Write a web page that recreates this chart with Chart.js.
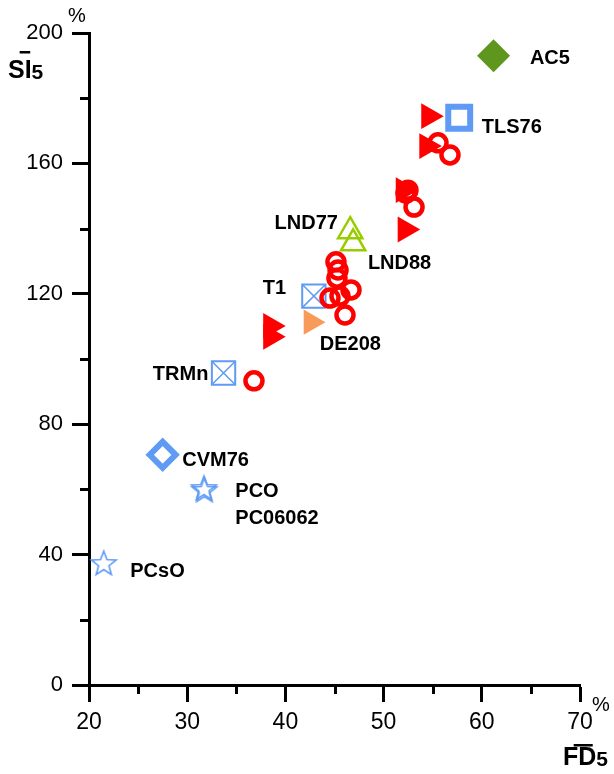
<!DOCTYPE html>
<html>
<head>
<meta charset="utf-8">
<script src="https://cdn.jsdelivr.net/npm/chart.js@4"></script>
<style>
  html, body { margin: 0; padding: 0; background: #fff; }
  #wrap { width: 614px; height: 774px; }
</style>
</head>
<body>
<div id="wrap"><canvas id="chart" width="614" height="774"></canvas></div>
<script>
// values (x = FD5 %, y = SI5 %)
const circleX = [36.8, 45.15, 45.36, 45.25, 46.68, 44.54, 45.56, 46.07, 52.48, 52.28, 53.1, 55.54, 56.76];
const circleY = [93.3, 129.8, 127.3, 124.8, 121.2, 118.7, 119.3, 113.5, 151.8, 150.9, 146.6, 166.3, 162.6];

const redTriX = [54.6, 54.4, 52.0, 52.2, 38.5, 38.5];
const redTriY = [174.5, 165.3, 151.8, 139.7, 110.1, 106.8];

const orangeTriX = [42.6];
const orangeTriY = [111.3];

const lndX = [46.6, 46.9];
const lndY = [139.2, 135.5];

const acX = [61.2];
const acY = [193];

const tlsX = [57.7];
const tlsY = [174];

const crossBoxX = [42.9, 33.7];
const crossBoxY = [119.3, 95.7];

const cvmX = [27.5];
const cvmY = [70.6];

const starX = [31.7, 31.75, 21.5];
const starY = [60.4, 59.8, 37.4];

const xTicks = [20, 30, 40, 50, 60, 70];
const yTicks = [0, 40, 80, 120, 160, 200];
const xMinor = [25, 35, 45, 55, 65];
const yMinor = [20, 60, 100, 140, 180];

// sample labels, anchored at data coordinates (left edge, middle)
const labelText = ['AC5', 'TLS76', 'LND77', 'LND88', 'T1', 'DE208', 'TRMn', 'CVM76', 'PCO', 'PC06062', 'PCsO'];
const labelX = [64.9, 60.0, 38.9, 48.4, 37.7, 43.5, 26.5, 29.5, 34.9, 34.9, 24.2];
const labelY = [192.3, 170.9, 141.7, 129.4, 121.5, 104.3, 95.1, 68.9, 59.5, 51.2, 34.8];

const RED = '#ff0000';
const BLUE = '#5f9bf5';
const ORANGE = '#f79a5a';
const LIME = '#99cc00';
const GREEN = '#5f961e';
const FONT = '"Liberation Sans", Arial, sans-serif';

const pts = (xs, ys) => xs.map((x, i) => ({ x: x, y: ys[i] }));

// 5-point outline star used as a point image
function makeStar(r, color) {
    const size = Math.ceil(r * 2 + 4);
    const cv = document.createElement('canvas');
    cv.width = size;
    cv.height = size;
    const c = cv.getContext('2d');
    const cx = size / 2, cy = size / 2 + 1;
    c.beginPath();
    for (let i = 0; i < 10; i++) {
        const rr = i % 2 === 0 ? r : r * 0.42;
        const a = -Math.PI / 2 + i * Math.PI / 5;
        const px = cx + Math.cos(a) * rr;
        const py = cy + Math.sin(a) * rr;
        if (i === 0) c.moveTo(px, py); else c.lineTo(px, py);
    }
    c.closePath();
    c.strokeStyle = color;
    c.lineWidth = 1.6;
    c.stroke();
    return cv;
}
const starImg = makeStar(13, BLUE);

// bold title with overline over the first two letters and a trailing "5"
function axisTitle(ctx, letters, x, y, barY) {
    ctx.font = 'bold 25px ' + FONT;
    ctx.fillText(letters, x, y);
    const w1 = ctx.measureText(letters[0]).width;
    const w = ctx.measureText(letters).width;
    const w2 = w - w1;
    ctx.fillRect(x + w1 * 0.7, barY, w1 * 0.3 + w2 * 0.8, 2.5);
    ctx.font = 'bold 21px ' + FONT;
    ctx.fillText('5', x + w, y + 1);
}

const extras = {
    id: 'extras',
    afterDraw(chart) {
        const ctx = chart.ctx;
        const xs = chart.scales.x, ys = chart.scales.y;
        const area = chart.chartArea;
        ctx.save();
        // minor ticks
        ctx.strokeStyle = '#000';
        ctx.lineWidth = 3;
        xMinor.forEach(v => {
            const px = Math.round(xs.getPixelForValue(v)) + 0.5;
            ctx.beginPath();
            ctx.moveTo(px, area.bottom);
            ctx.lineTo(px, area.bottom + 9);
            ctx.stroke();
        });
        yMinor.forEach(v => {
            const py = Math.round(ys.getPixelForValue(v)) + 0.5;
            ctx.beginPath();
            ctx.moveTo(area.left - 9, py);
            ctx.lineTo(area.left, py);
            ctx.stroke();
        });

        // sample labels
        ctx.fillStyle = '#000';
        ctx.font = 'bold 20px ' + FONT;
        ctx.textAlign = 'left';
        ctx.textBaseline = 'middle';
        labelText.forEach((t, i) => {
            ctx.fillText(t, xs.getPixelForValue(labelX[i]), ys.getPixelForValue(labelY[i]));
        });

        // units
        ctx.font = '20px ' + FONT;
        ctx.textAlign = 'center';
        ctx.fillText('%', area.left - 12, area.top - 17);
        ctx.fillText('%', area.right + 21, area.bottom + 20);

        // axis titles
        ctx.textAlign = 'left';
        ctx.textBaseline = 'alphabetic';
        axisTitle(ctx, 'SI', 8, 78, 51);
        axisTitle(ctx, 'FD', 563, 765, 744);
        ctx.restore();
    }
};

new Chart(document.getElementById('chart'), {
    type: 'scatter',
    data: {
        datasets: [
            { data: pts(circleX, circleY), pointStyle: 'circle', pointRadius: 8.5, borderWidth: 4.5,
              borderColor: RED, backgroundColor: 'rgba(0,0,0,0)' },
            { data: pts(redTriX, redTriY), pointStyle: 'triangle', rotation: 90, pointRadius: 15,
              borderWidth: 0, borderColor: RED, backgroundColor: RED },
            { data: pts(crossBoxX, crossBoxY), pointStyle: 'crossRot', pointRadius: 16, borderWidth: 1.5,
              borderColor: BLUE, backgroundColor: 'rgba(0,0,0,0)' },
            { data: pts(crossBoxX, crossBoxY), pointStyle: 'rect', pointRadius: 16.5, borderWidth: 2,
              borderColor: BLUE, backgroundColor: 'rgba(255,255,255,0)' },
            { data: pts(orangeTriX, orangeTriY), pointStyle: 'triangle', rotation: 90, pointRadius: 14.5,
              borderWidth: 0, borderColor: ORANGE, backgroundColor: ORANGE },
            { data: pts(lndX, lndY), pointStyle: 'triangle', pointRadius: 14, borderWidth: 2.5,
              borderColor: LIME, backgroundColor: 'rgba(0,0,0,0)' },
            { data: pts(tlsX, tlsY), pointStyle: 'rect', pointRadius: 15.5, borderWidth: 6,
              borderColor: BLUE, backgroundColor: '#fff' },
            { data: pts(acX, acY), pointStyle: 'rectRot', pointRadius: 16.5, borderWidth: 0,
              borderColor: GREEN, backgroundColor: GREEN },
            { data: pts(cvmX, cvmY), pointStyle: 'rectRot', pointRadius: 13, borderWidth: 6,
              borderColor: BLUE, backgroundColor: '#fff' },
            { data: pts(starX, starY), pointStyle: starImg, pointRadius: 13 }
        ]
    },
    options: {
        responsive: false,
        animation: false,
        devicePixelRatio: 1,
        clip: false,
        layout: { padding: { left: 0, top: 33, right: 34, bottom: 0 } },
        plugins: { legend: { display: false }, tooltip: { enabled: false } },
        elements: { point: { hoverRadius: 0 } },
        scales: {
            x: {
                type: 'linear',
                min: 20, max: 70,
                afterBuildTicks: s => { s.ticks = xTicks.map(v => ({ value: v })); },
                afterFit: s => { s.height = 89; },
                ticks: { color: '#000', font: { family: FONT, size: 23 }, padding: 7, maxRotation: 0 },
                grid: { drawOnChartArea: false, tickLength: 17, tickWidth: 3, tickColor: '#000' },
                border: { display: true, width: 3, color: '#000' }
            },
            y: {
                type: 'linear',
                min: 0, max: 200,
                afterBuildTicks: s => { s.ticks = yTicks.map(v => ({ value: v })); },
                afterFit: s => { s.width = 89; },
                ticks: { color: '#000', font: { family: FONT, size: 22 }, padding: 9 },
                grid: { drawOnChartArea: false, tickLength: 17, tickWidth: 3, tickColor: '#000' },
                border: { display: true, width: 3, color: '#000' }
            }
        }
    },
    plugins: [extras]
});
</script>
</body>
</html>
